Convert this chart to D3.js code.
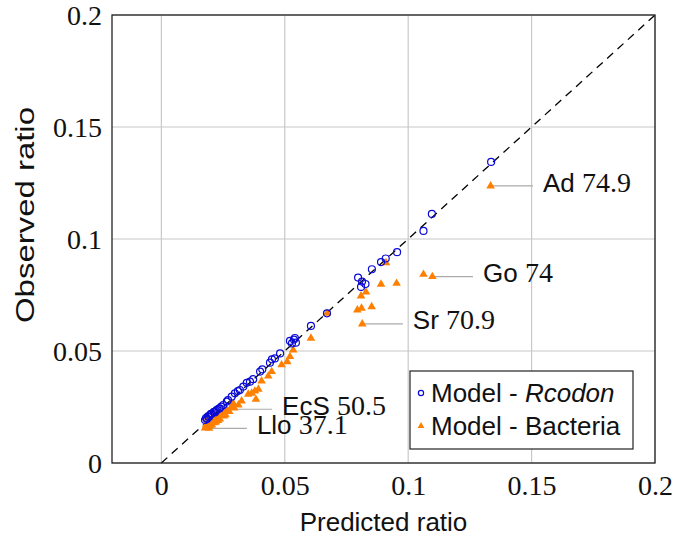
<!DOCTYPE html>
<html><head><meta charset="utf-8">
<script src="https://cdn.jsdelivr.net/npm/d3@7"></script>
<style>body{margin:0;background:#fff}</style>
</head><body><svg id="c" width="675" height="541"></svg>
<script>
const xTicks = [0, 0.05, 0.1, 0.15, 0.2];
const yTicks = [0, 0.05, 0.1, 0.15, 0.2];
const xTickLabels = ["0", "0.05", "0.1", "0.15", "0.2"];
const yTickLabels = ["0", "0.05", "0.1", "0.15", "0.2"];
const seriesNames = ["Model - ", "Model - Bacteria"];

const rcodonX = [0.1336,0.1096,0.1062,0.0955,0.0909,0.0890,0.0853,0.0797,0.0813,0.0827,0.0809,0.0671,0.0606,0.0541,0.0521,0.0537,0.0529,0.0545,0.0481,0.0448,0.0460,0.0440,0.0409,0.0400,0.0372,0.0359,0.0346,0.0332,0.0318,0.0298,0.0285,0.0265,0.0251,0.0237,0.0225,0.0213,0.0205,0.0197,0.0189,0.0181,0.0177,0.0185,0.0201,0.0221,0.0233,0.0270,0.0310,0.0193,0.0217,0.0243];
const rcodonY = [0.1344,0.1112,0.1036,0.0941,0.0913,0.0897,0.0865,0.0828,0.0810,0.0799,0.0786,0.0668,0.0612,0.0558,0.0545,0.0551,0.0534,0.0537,0.0489,0.0463,0.0467,0.0448,0.0418,0.0408,0.0374,0.0363,0.0358,0.0341,0.0326,0.0311,0.0296,0.0274,0.0259,0.0244,0.0237,0.0228,0.0221,0.0214,0.0208,0.0201,0.0192,0.0196,0.0219,0.0232,0.0243,0.0281,0.0321,0.0205,0.0226,0.0252];

const bactX = [0.1334,0.1062,0.1098,0.0910,0.0890,0.0953,0.0829,0.0809,0.0852,0.0811,0.0794,0.0814,0.0671,0.0606,0.0534,0.0521,0.0510,0.0487,0.0447,0.0433,0.0406,0.0393,0.0379,0.0366,0.0352,0.0383,0.0325,0.0312,0.0291,0.0284,0.0265,0.0193,0.0246,0.0229,0.0213,0.0201,0.0189,0.0181,0.0177,0.0205,0.0221,0.0237,0.0254,0.0209,0.0185,0.0197,0.0185,0.0215,0.0230,0.0260,0.0275,0.0295];
const bactY = [0.1237,0.0842,0.0832,0.0894,0.0798,0.0802,0.0763,0.0746,0.0698,0.0691,0.0683,0.0621,0.0668,0.0557,0.0504,0.0475,0.0452,0.0438,0.0408,0.0388,0.0366,0.0329,0.0321,0.0311,0.0307,0.0284,0.0277,0.0259,0.0267,0.0251,0.0237,0.0155,0.0219,0.0205,0.0196,0.0188,0.0179,0.0170,0.0156,0.0170,0.0183,0.0196,0.0210,0.0205,0.0192,0.0165,0.0160,0.0180,0.0190,0.0215,0.0230,0.0245];

// annotations: name, value, point (x,y), label x (data)
const annNames = ["Ad", "Go", "Sr", "EcS", "Llo"];
const annValues = ["74.9", "74", "70.9", "50.5", "37.1"];
const annPX = [0.1334, 0.1098, 0.0814, 0.0284, 0.0193];
const annPY = [0.1237, 0.0832, 0.0621, 0.0240, 0.0155];
const annLabelX = [0.1546, 0.1303, 0.1019, 0.0489, 0.0387];

const svg = d3.select("#c");
const L = 112, R = 655, T = 15, B = 463;
const x = d3.scaleLinear().domain([-0.02, 0.2]).range([L, R]);
const y = d3.scaleLinear().domain([0, 0.2]).range([B, T]);
const serif = "'Liberation Serif', 'DejaVu Serif', serif";
const sans = "'Liberation Sans', Arial, sans-serif";
const BLUE = "#0a0ad8", ORANGE = "#ff8000";

// grid
const g = svg.append("g");
g.selectAll(".vg").data(xTicks).enter().append("line")
  .attr("x1", d => x(d)).attr("x2", d => x(d)).attr("y1", T).attr("y2", B)
  .attr("stroke", "#c8c8c8").attr("stroke-width", 1.2);
g.selectAll(".hg").data(yTicks).enter().append("line")
  .attr("y1", d => y(d)).attr("y2", d => y(d)).attr("x1", L).attr("x2", R)
  .attr("stroke", "#c8c8c8").attr("stroke-width", 1.2);

// axes tick labels via d3 axes
const xAxis = d3.axisBottom(x).tickValues(xTicks).tickSize(0).tickPadding(8)
  .tickFormat((d, i) => xTickLabels[i]);
const yAxis = d3.axisLeft(y).tickValues(yTicks).tickSize(0).tickPadding(10)
  .tickFormat((d, i) => yTickLabels[i]);
const xa = svg.append("g").attr("transform", `translate(0,${B})`).call(xAxis);
const ya = svg.append("g").attr("transform", `translate(${L},0)`).call(yAxis);
[xa, ya].forEach(a => {
  a.select(".domain").remove();
  a.selectAll("text").attr("font-family", serif).attr("font-size", 28).attr("fill", "#111");
});
xa.selectAll("text").attr("dy", "0.85em");
ya.selectAll("text").attr("dy", "0.33em");

// diagonal
svg.append("line").attr("x1", x(0)).attr("y1", y(0)).attr("x2", x(0.2)).attr("y2", y(0.2))
  .attr("stroke", "#000").attr("stroke-width", 1.3).attr("stroke-dasharray", "8,6");

// leader lines
annNames.forEach((n, i) => {
  svg.append("line").attr("x1", x(annPX[i])).attr("y1", y(annPY[i]))
    .attr("x2", x(annLabelX[i]) - 10).attr("y2", y(annPY[i]))
    .attr("stroke", "#aaa").attr("stroke-width", 1.2);
});

// bacteria triangles
const tri = d3.symbol().type(d3.symbolTriangle).size(32);
svg.append("g").selectAll("path").data(bactX.map((v, i) => [v, bactY[i]])).enter().append("path")
  .attr("d", tri).attr("transform", d => `translate(${x(d[0])},${y(d[1])})`)
  .attr("fill", ORANGE);

// rcodon circles
svg.append("g").selectAll("circle").data(rcodonX.map((v, i) => [v, rcodonY[i]])).enter().append("circle")
  .attr("cx", d => x(d[0])).attr("cy", d => y(d[1])).attr("r", 3.5)
  .attr("fill", "none").attr("stroke", BLUE).attr("stroke-width", 1.2);

// annotation labels
annNames.forEach((n, i) => {
  const t = svg.append("text").attr("x", x(annLabelX[i])).attr("y", y(annPY[i])).attr("dy", "0.35em")
    .attr("fill", "#111");
  t.append("tspan").attr("font-family", sans).attr("font-size", 26).text(n + " ");
  t.append("tspan").attr("font-family", serif).attr("font-size", 28).text(annValues[i]);
});

// frame
svg.append("rect").attr("x", L).attr("y", T).attr("width", R - L).attr("height", B - T)
  .attr("fill", "none").attr("stroke", "#222").attr("stroke-width", 1.3);

// axis titles
svg.append("text").attr("x", (L + R) / 2).attr("y", 531).attr("text-anchor", "middle")
  .attr("font-family", sans).attr("font-size", 26).attr("fill", "#111").text("Predicted ratio");
svg.append("text").attr("transform", `translate(34,${(T + B) / 2 - 24}) rotate(-90)`).attr("text-anchor", "middle")
  .attr("font-family", sans).attr("font-size", 26).attr("fill", "#111")
  .attr("textLength", 216).attr("lengthAdjust", "spacingAndGlyphs").text("Observed ratio");

// legend
const lg = svg.append("g");
lg.append("rect").attr("x", 410).attr("y", 371).attr("width", 223).attr("height", 78)
  .attr("fill", "#fff").attr("stroke", "#222").attr("stroke-width", 1.2);
lg.append("circle").attr("cx", 421).attr("cy", 393).attr("r", 2.6).attr("fill", "none")
  .attr("stroke", BLUE).attr("stroke-width", 1.2);
lg.append("path").attr("d", d3.symbol().type(d3.symbolTriangle).size(20))
  .attr("transform", "translate(421,426)").attr("fill", ORANGE);
const l1 = lg.append("text").attr("x", 431).attr("y", 393).attr("dy", "0.35em")
  .attr("font-family", sans).attr("font-size", 26).attr("fill", "#111");
l1.append("tspan").text(seriesNames[0]);
l1.append("tspan").attr("font-style", "italic").text("Rcodon");
lg.append("text").attr("x", 431).attr("y", 426).attr("dy", "0.35em")
  .attr("font-family", sans).attr("font-size", 26).attr("fill", "#111").text(seriesNames[1]);
</script></body></html>
